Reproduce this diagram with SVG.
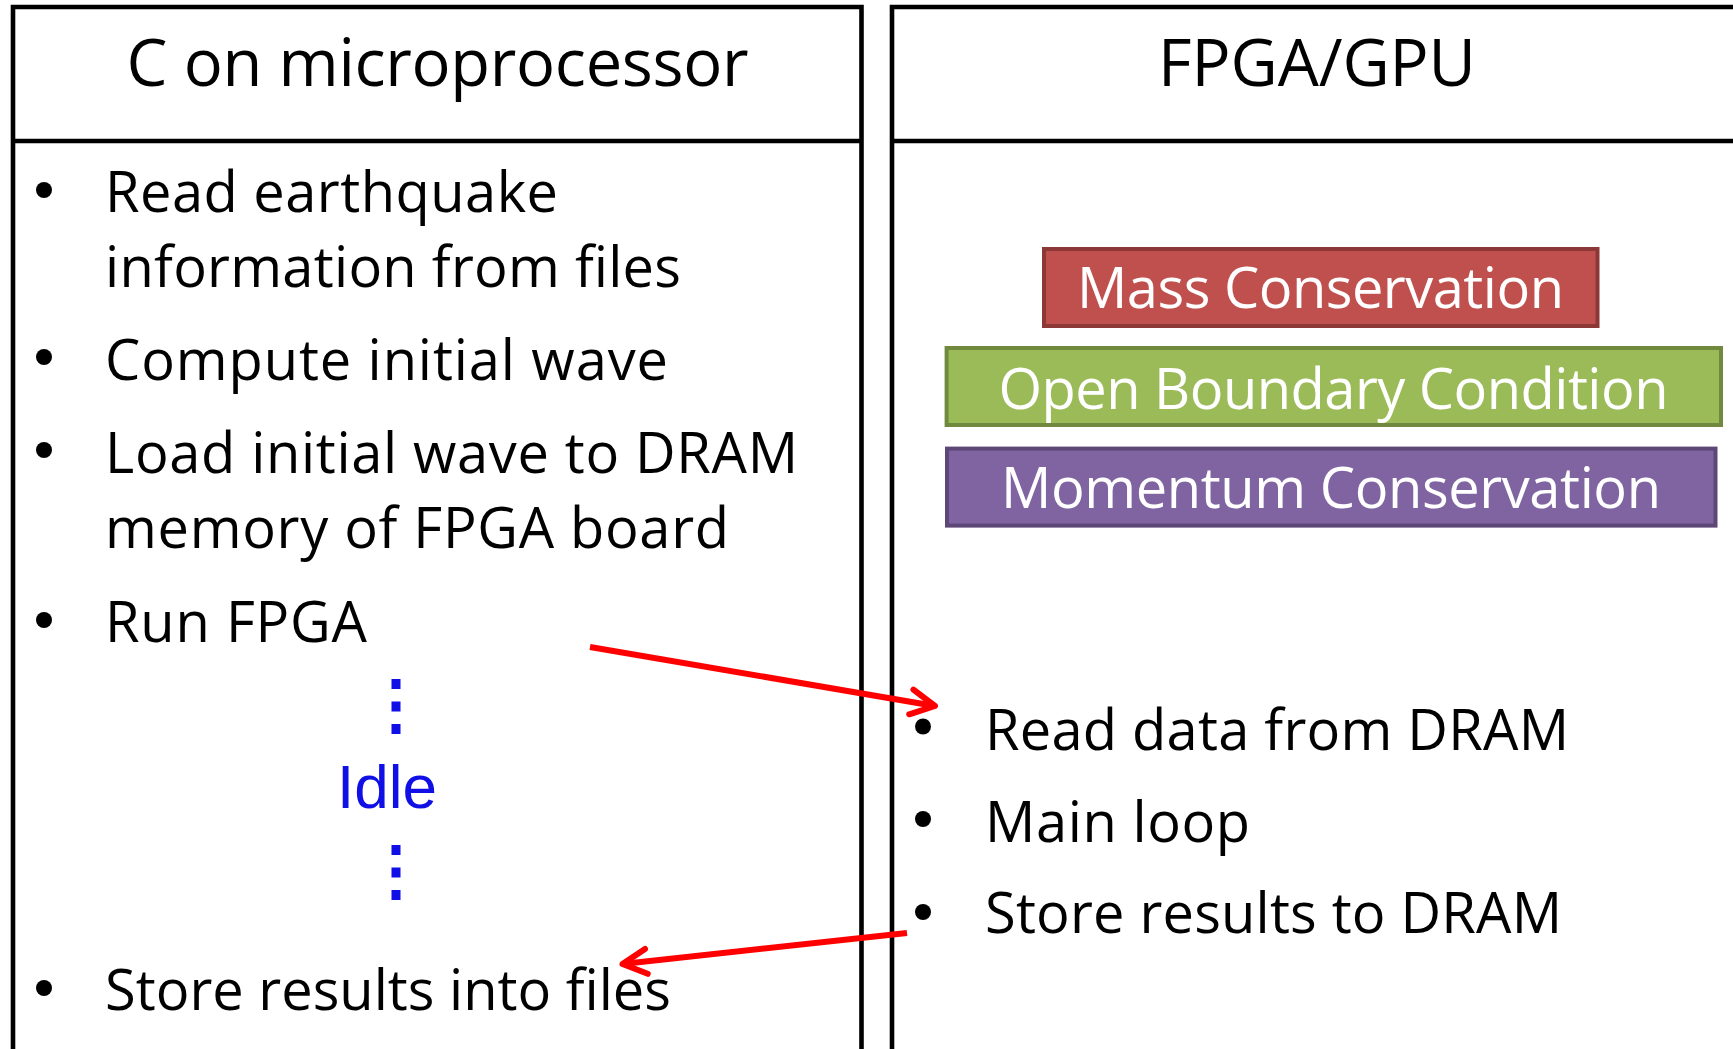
<svg xmlns="http://www.w3.org/2000/svg" width="1733" height="1049" viewBox="0 0 1733 1049">
  <defs>
    <style>
      .frame { fill: none; stroke: #000; stroke-width: 4.6; }
      .head { font-family: "Open Sans", "Noto Sans", sans-serif; font-size: 65px; fill: #000; text-anchor: middle; }
      .item { font-family: "Open Sans", "Noto Sans", sans-serif; font-size: 56px; fill: #000; }
      .dot { fill: #000; }
      .blk { stroke-width: 4; }
      .blk-text { font-family: "Open Sans", "Noto Sans", sans-serif; font-size: 56px; fill: #fff; text-anchor: middle; }
      .idle { font-family: "Liberation Sans", Arial, sans-serif; font-size: 62px; fill: #0F0FE6; }
      .wait { stroke: #0F0FE6; stroke-width: 9; stroke-dasharray: 10 12.5; fill: none; }
      .flow { stroke: #FF0000; stroke-width: 6; fill: none; marker-end: url(#vhead); }
    </style>
    <marker id="vhead" markerUnits="userSpaceOnUse" markerWidth="44" markerHeight="44" viewBox="-32 -22 44 44" refX="0" refY="0" orient="auto">
      <path d="M -24 -12.5 L 0 0 L -24 12.5" fill="none" stroke="#FF0000" stroke-width="6" stroke-linecap="round" stroke-linejoin="round"/>
    </marker>
  </defs>

  <rect width="1733" height="1049" fill="#fff"/>

  <!-- Left column: host program -->
  <g id="cpu-column">
    <path class="frame" d="M 13 1052 V 7 H 861.5 V 1052 M 13 141 H 861.5"/>
    <text class="head" x="437.5" y="86" textLength="622" lengthAdjust="spacing">C on microprocessor</text>
    <g id="cpu-steps">
      <circle class="dot" cx="44" cy="190" r="8"/>
      <text class="item" x="105" y="212" textLength="453" lengthAdjust="spacing">Read earthquake</text>
      <text class="item" x="105" y="287" textLength="576" lengthAdjust="spacing">information from files</text>
      <circle class="dot" cx="44" cy="357" r="8"/>
      <text class="item" x="105" y="380" textLength="563" lengthAdjust="spacing">Compute initial wave</text>
      <circle class="dot" cx="44" cy="450" r="8"/>
      <text class="item" x="105" y="473" textLength="693" lengthAdjust="spacing">Load initial wave to DRAM</text>
      <text class="item" x="105" y="548" textLength="624" lengthAdjust="spacing">memory of FPGA board</text>
      <circle class="dot" cx="44" cy="620" r="8"/>
      <text class="item" x="105" y="642" textLength="262" lengthAdjust="spacing">Run FPGA</text>
      <circle class="dot" cx="44" cy="988" r="8"/>
      <text class="item" x="105" y="1010" textLength="566" lengthAdjust="spacing">Store results into files</text>
    </g>
    <g id="idle">
      <path class="wait" d="M 396 679 V 735"/>
      <text class="idle" x="337" y="808">Idle</text>
      <path class="wait" d="M 396 845 V 901"/>
    </g>
  </g>

  <!-- Right column: accelerator -->
  <g id="accel-column">
    <path class="frame" d="M 892 1052 V 7 H 1740 M 892 141 H 1740"/>
    <text class="head" x="1317" y="86" textLength="318" lengthAdjust="spacing">FPGA/GPU</text>
    <g id="mass-conservation">
      <rect class="blk" x="1044" y="249" width="553.5" height="77" fill="#C0504D" stroke="#8C3836"/>
      <text class="blk-text" x="1320.5" y="308" textLength="487" lengthAdjust="spacing">Mass Conservation</text>
    </g>
    <g id="open-boundary">
      <rect class="blk" x="946.6" y="348" width="774.4" height="77" fill="#9BBB59" stroke="#71893F"/>
      <text class="blk-text" x="1333.5" y="409" textLength="670" lengthAdjust="spacing">Open Boundary Condition</text>
    </g>
    <g id="momentum-conservation">
      <rect class="blk" x="947" y="448.6" width="768.5" height="77" fill="#8064A2" stroke="#5C4776"/>
      <text class="blk-text" x="1331" y="508" textLength="660" lengthAdjust="spacing">Momentum Conservation</text>
    </g>
    <g id="accel-steps">
      <circle class="dot" cx="923" cy="726.5" r="8"/>
      <text class="item" x="985" y="750" textLength="584" lengthAdjust="spacing">Read data from DRAM</text>
      <circle class="dot" cx="923" cy="819" r="8"/>
      <text class="item" x="985" y="842" textLength="265" lengthAdjust="spacing">Main loop</text>
      <circle class="dot" cx="923" cy="912" r="8"/>
      <text class="item" x="985" y="933" textLength="577" lengthAdjust="spacing">Store results to DRAM</text>
    </g>
  </g>

  <!-- Hand-off arrows between host and accelerator -->
  <g id="connectors">
    <line class="flow" x1="590" y1="647" x2="935" y2="706"/>
    <line class="flow" x1="907" y1="933" x2="622.5" y2="964"/>
  </g>
</svg>
